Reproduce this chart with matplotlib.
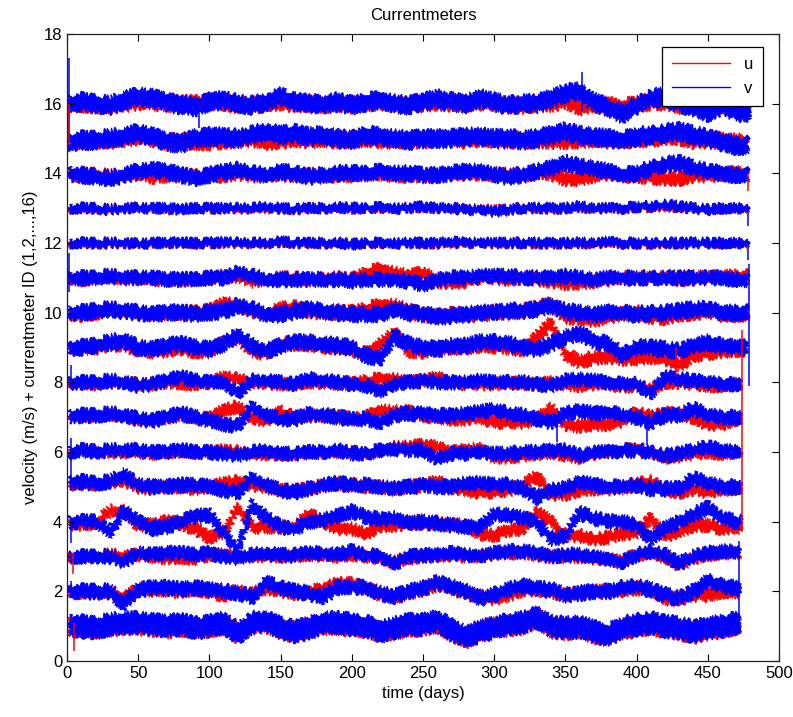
import numpy as np
import matplotlib
matplotlib.use('Agg')
import matplotlib.pyplot as plt
from matplotlib.lines import Line2D

plt.rcParams['font.family'] = ['Liberation Sans', 'DejaVu Sans']

# sample days (every 10 days), the per-meter last day is added below
days = [2, 10, 20, 30, 40, 50, 60, 70, 80, 90, 100, 110,
        120, 130, 140, 150, 160, 170, 180, 190, 200, 210, 220, 230,
        240, 250, 260, 270, 280, 290, 300, 310, 320, 330, 340, 350,
        360, 370, 380, 390, 400, 410, 420, 430, 440, 450, 460, 470]
end_day = [472, 472, 472, 473, 473, 473, 473, 473, 477, 478, 478, 478, 478, 478, 478, 479]

# velocity components (m/s) for currentmeters 1..16
u1 = [0.0, -0.05, -0.05, 0.0, 0.05, 0.05, 0.0, -0.05, 0.0, -0.05, -0.05, 0.05,
      -0.2, 0.05, 0.1, -0.1, -0.15, -0.05, 0.05, 0.05, 0.0, -0.05, -0.15, -0.1,
      0.0, 0.0, 0.1, -0.15, -0.35, -0.15, -0.05, 0.0, 0.05, 0.25, -0.05, -0.1,
      -0.05, -0.2, -0.25, -0.1, 0.0, 0.05, -0.05, -0.1, -0.2, -0.1, -0.05, 0.05]
v1 = [0.05, 0.0, -0.05, 0.05, 0.1, 0.1, 0.05, 0.0, 0.05, -0.05, 0.0, 0.1,
      -0.2, 0.1, 0.15, -0.05, -0.15, -0.05, 0.1, 0.1, 0.05, 0.0, -0.15, -0.05,
      0.05, 0.05, 0.15, -0.1, -0.3, -0.15, -0.05, 0.05, 0.1, 0.25, 0.0, -0.05,
      0.0, -0.15, -0.25, -0.05, 0.05, 0.1, 0.0, -0.05, -0.15, -0.05, 0.0, 0.1]
u2 = [0.0, 0.0, 0.0, 0.0, -0.2, 0.05, 0.05, 0.05, 0.0, 0.05, 0.0, -0.1,
      0.0, -0.1, 0.1, 0.05, -0.05, -0.05, 0.1, 0.2, 0.2, 0.1, -0.1, -0.15,
      -0.05, 0.05, 0.2, 0.1, -0.05, -0.15, -0.2, -0.1, 0.05, 0.05, 0.0, -0.1,
      -0.05, 0.0, 0.0, 0.05, 0.1, 0.05, -0.2, -0.2, -0.1, -0.1, 0.0, 0.0]
v2 = [0.0, 0.0, 0.0, 0.0, -0.35, 0.05, 0.1, 0.1, 0.05, 0.1, 0.05, 0.0,
      -0.05, -0.15, 0.25, 0.1, 0.0, -0.05, -0.15, 0.1, 0.15, 0.1, -0.05, -0.15,
      0.0, 0.1, 0.25, 0.15, 0.0, -0.2, -0.1, 0.05, 0.15, 0.1, 0.05, -0.1,
      -0.05, 0.0, 0.0, 0.1, 0.15, 0.05, -0.1, -0.2, 0.0, 0.3, 0.15, 0.1]
u3 = [0.0, 0.0, 0.0, 0.05, 0.0, 0.05, 0.0, -0.05, -0.05, -0.05, 0.05, 0.05,
      0.0, 0.0, 0.05, 0.0, 0.0, 0.05, 0.05, 0.0, 0.05, 0.0, -0.05, -0.15,
      -0.05, 0.0, 0.0, 0.05, 0.0, 0.0, 0.1, 0.1, 0.1, 0.05, 0.0, 0.0,
      0.0, -0.05, -0.1, -0.1, 0.05, 0.1, 0.0, -0.25, -0.05, 0.05, 0.1, 0.1]
v3 = [0.0, 0.0, 0.0, 0.0, -0.15, 0.1, 0.05, 0.1, 0.1, 0.05, 0.1, 0.0,
      -0.05, 0.05, 0.1, 0.05, 0.05, 0.1, 0.1, 0.05, 0.15, 0.05, 0.0, -0.2,
      0.0, 0.05, 0.05, 0.1, 0.05, 0.0, 0.1, 0.15, 0.15, 0.1, 0.0, 0.05,
      0.05, 0.0, -0.1, -0.15, 0.05, 0.15, 0.05, -0.2, 0.0, 0.1, 0.15, 0.15]
u4 = [-0.1, -0.05, -0.05, 0.3, 0.3, -0.1, -0.1, 0.0, -0.05, -0.2, -0.45, -0.3,
      0.4, -0.15, -0.15, -0.15, -0.15, 0.2, 0.0, -0.2, -0.2, -0.35, -0.1, -0.1,
      -0.05, -0.05, -0.05, -0.1, -0.1, -0.35, -0.4, -0.25, -0.2, 0.3, 0.0, -0.4,
      -0.4, -0.5, -0.45, -0.35, -0.3, 0.1, -0.4, -0.3, -0.1, -0.1, -0.2, -0.15]
v4 = [0.0, 0.0, 0.0, -0.3, 0.3, 0.0, -0.2, -0.15, 0.0, 0.15, 0.2, -0.3,
      -0.8, 0.5, 0.1, -0.15, -0.2, 0.0, 0.05, 0.15, 0.3, 0.15, 0.05, 0.1,
      -0.05, 0.0, -0.05, -0.1, -0.15, -0.15, 0.2, 0.2, 0.1, 0.0, -0.5, -0.4,
      0.25, 0.1, 0.0, 0.0, -0.1, -0.5, -0.2, 0.0, 0.2, 0.4, 0.1, 0.0]
u5 = [0.1, 0.1, 0.1, 0.15, 0.2, 0.0, -0.05, 0.0, 0.0, -0.05, 0.0, 0.1,
      0.15, 0.05, 0.0, -0.1, -0.1, -0.05, 0.05, 0.1, 0.05, 0.0, 0.0, -0.05,
      0.0, 0.05, 0.15, 0.0, -0.1, -0.15, -0.15, -0.1, 0.05, 0.3, -0.2, -0.2,
      -0.1, -0.05, -0.05, -0.05, 0.1, 0.15, -0.1, -0.15, -0.05, -0.15, -0.05, -0.05]
v5 = [0.15, 0.15, 0.1, 0.15, 0.35, 0.05, 0.0, 0.0, 0.05, 0.05, 0.0, -0.1,
      -0.15, 0.25, 0.05, -0.1, -0.15, -0.05, 0.05, 0.1, 0.05, 0.05, 0.0, -0.05,
      0.0, 0.05, 0.0, 0.0, 0.1, 0.1, 0.05, 0.05, -0.05, -0.3, -0.1, -0.05,
      0.15, 0.05, 0.0, 0.0, 0.05, -0.05, -0.05, -0.05, 0.25, 0.1, 0.0, 0.0]
u6 = [0.0, 0.05, 0.05, 0.0, 0.0, 0.0, -0.05, 0.0, 0.0, 0.0, 0.0, 0.05,
      0.0, -0.05, -0.05, -0.05, -0.05, 0.0, 0.0, 0.0, 0.0, -0.05, 0.05, 0.15,
      0.15, 0.2, 0.15, 0.0, 0.05, 0.1, -0.15, -0.15, -0.1, -0.05, 0.0, -0.1,
      -0.15, -0.05, 0.0, 0.05, 0.1, 0.0, -0.15, -0.1, -0.05, 0.0, -0.05, 0.0]
v6 = [0.0, 0.05, 0.0, 0.05, 0.05, 0.05, 0.0, 0.0, 0.05, 0.0, 0.0, -0.05,
      -0.1, 0.0, 0.05, -0.05, -0.05, 0.0, 0.0, 0.05, -0.05, -0.05, 0.05, 0.1,
      0.05, 0.05, -0.2, -0.05, -0.05, 0.0, -0.05, -0.05, 0.0, 0.0, 0.05, 0.05,
      -0.1, 0.0, 0.0, 0.05, 0.05, 0.0, -0.1, -0.05, 0.05, 0.15, 0.05, 0.0]
u7 = [0.05, 0.05, 0.05, 0.1, 0.05, -0.05, -0.1, 0.0, 0.05, 0.0, -0.05, 0.2,
      0.3, 0.0, -0.1, 0.15, 0.0, 0.05, 0.05, 0.0, -0.05, 0.0, 0.2, 0.15,
      0.15, 0.05, 0.0, -0.05, -0.05, 0.0, -0.15, -0.15, -0.15, -0.05, 0.25, -0.2,
      -0.25, -0.2, -0.2, -0.1, 0.15, 0.0, 0.1, 0.1, 0.0, -0.2, -0.2, -0.05]
v7 = [0.05, 0.05, 0.05, 0.1, 0.05, -0.05, -0.1, 0.0, 0.1, 0.0, -0.1, -0.2,
      -0.25, 0.3, 0.05, -0.05, -0.05, 0.1, 0.05, 0.0, -0.05, -0.05, -0.15, 0.05,
      0.1, 0.1, 0.05, 0.05, 0.1, 0.15, 0.2, 0.1, 0.05, -0.05, -0.15, 0.1,
      0.2, 0.1, 0.15, 0.05, 0.0, -0.15, 0.05, 0.05, 0.25, 0.05, 0.0, 0.0]
u8 = [0.0, 0.0, -0.05, 0.0, 0.0, -0.05, -0.05, 0.0, -0.05, -0.05, 0.0, 0.15,
      0.1, 0.0, 0.0, -0.05, -0.05, 0.0, 0.0, -0.05, -0.05, 0.05, 0.1, 0.1,
      0.0, 0.05, 0.15, 0.0, -0.05, -0.05, -0.05, 0.0, -0.05, -0.05, 0.0, -0.05,
      -0.1, -0.05, -0.05, -0.1, -0.1, -0.2, 0.0, 0.0, -0.05, -0.1, -0.1, -0.05]
v8 = [0.0, 0.0, 0.0, 0.05, 0.0, -0.1, -0.05, 0.05, 0.15, 0.05, 0.0, 0.0,
      -0.3, 0.05, 0.05, 0.0, -0.05, 0.1, 0.05, 0.0, -0.05, -0.1, -0.25, -0.05,
      0.0, 0.05, 0.0, 0.0, 0.0, 0.05, 0.0, 0.0, 0.0, -0.05, -0.1, 0.05,
      0.1, 0.05, 0.0, -0.05, -0.05, -0.3, 0.15, 0.1, 0.05, 0.0, -0.05, -0.05]
u9 = [0.0, 0.0, 0.0, 0.1, 0.1, -0.05, -0.1, -0.05, 0.0, -0.1, -0.1, 0.15,
      0.3, -0.1, -0.15, 0.1, 0.1, 0.1, 0.05, 0.0, -0.05, -0.2, 0.1, 0.4,
      -0.1, -0.1, -0.05, 0.0, 0.0, 0.05, 0.05, 0.0, -0.05, 0.3, 0.7, -0.2,
      -0.4, -0.3, -0.25, -0.3, -0.3, -0.25, -0.3, -0.5, -0.2, -0.15, -0.1, -0.05]
v9 = [0.0, 0.0, 0.05, 0.15, 0.2, 0.0, -0.05, 0.05, 0.1, 0.0, -0.05, 0.1,
      0.35, 0.05, -0.1, 0.05, 0.15, 0.15, 0.1, 0.05, 0.0, -0.25, -0.3, 0.3,
      0.1, 0.0, -0.05, 0.05, 0.05, 0.15, 0.15, 0.1, 0.0, -0.05, 0.1, 0.3,
      0.4, 0.2, 0.1, -0.2, 0.0, 0.0, -0.05, -0.1, 0.05, 0.15, 0.05, 0.0]
u10 = [0.0, -0.05, 0.0, 0.1, 0.05, 0.0, -0.05, 0.0, 0.0, 0.0, 0.05, 0.25,
       0.2, 0.05, -0.05, 0.1, 0.15, 0.05, 0.0, 0.0, 0.0, 0.1, 0.2, 0.2,
       0.05, -0.05, -0.1, -0.05, -0.05, -0.05, 0.0, 0.0, 0.05, 0.15, 0.25, -0.1,
       -0.15, -0.2, -0.1, -0.05, 0.0, -0.1, -0.15, -0.05, 0.0, 0.05, -0.05, -0.05]
v10 = [0.0, 0.0, 0.05, 0.1, 0.05, 0.0, -0.05, 0.0, 0.0, -0.05, 0.0, 0.05,
       0.2, 0.1, -0.05, -0.05, 0.05, 0.1, 0.05, 0.0, -0.05, -0.05, -0.05, 0.1,
       0.0, -0.05, -0.1, -0.1, -0.05, 0.0, 0.0, 0.05, 0.05, 0.1, 0.2, 0.05,
       0.0, -0.05, 0.0, 0.0, -0.05, 0.0, 0.0, 0.05, 0.1, 0.1, 0.0, 0.0]
u11 = [0.0, -0.05, 0.0, 0.05, 0.0, 0.0, -0.05, -0.05, -0.05, -0.05, 0.0, 0.05,
       0.05, -0.1, -0.05, 0.0, 0.0, -0.05, 0.0, 0.0, -0.05, 0.15, 0.25, 0.15,
       0.05, 0.15, -0.1, -0.15, -0.1, 0.0, 0.0, -0.05, 0.0, -0.05, -0.1, -0.15,
       -0.15, -0.1, -0.05, 0.0, 0.0, 0.0, 0.0, -0.05, 0.0, 0.0, 0.05, 0.05]
v11 = [0.0, 0.0, 0.0, 0.05, 0.0, 0.0, 0.0, -0.05, -0.05, -0.05, 0.0, 0.0,
       0.15, 0.05, -0.05, -0.05, -0.05, -0.05, -0.05, -0.05, -0.1, -0.05, -0.05, -0.05,
       -0.1, -0.2, -0.05, 0.0, 0.0, 0.05, 0.05, 0.05, 0.0, 0.0, 0.0, 0.05,
       0.0, -0.05, 0.0, 0.0, 0.0, 0.0, 0.0, 0.0, 0.0, 0.0, 0.0, -0.05]
u12 = [0.0, 0.0, -0.03, 0.0, 0.0, -0.03, 0.0, 0.0, 0.0, -0.03, 0.0, 0.0,
       0.0, 0.0, 0.0, 0.03, 0.0, 0.0, 0.0, 0.0, -0.03, 0.0, 0.0, 0.0,
       0.0, 0.0, -0.03, 0.0, 0.0, 0.0, 0.0, 0.0, 0.0, -0.03, 0.0, 0.0,
       0.0, 0.0, 0.0, 0.0, 0.0, -0.03, 0.0, 0.0, 0.0, 0.0, 0.0, 0.0]
v12 = [0.0, 0.0, 0.0, 0.0, 0.0, -0.03, 0.0, 0.0, 0.0, 0.0, 0.0, 0.03,
       0.0, 0.0, 0.0, 0.05, 0.0, 0.0, 0.0, 0.0, -0.05, 0.0, 0.0, 0.0,
       0.0, 0.0, 0.0, 0.03, 0.0, 0.0, 0.0, 0.0, 0.0, 0.0, 0.0, 0.0,
       0.0, 0.0, 0.03, 0.0, 0.0, 0.0, 0.0, 0.0, 0.0, 0.0, 0.0, 0.0]
u13 = [0.0, 0.0, -0.03, -0.03, 0.0, 0.0, 0.0, -0.03, -0.05, 0.0, 0.0, 0.0,
       -0.03, 0.0, 0.0, 0.0, -0.03, 0.0, 0.0, 0.0, -0.03, 0.0, 0.0, 0.0,
       0.0, 0.03, 0.0, 0.0, -0.03, -0.03, -0.05, -0.03, 0.0, 0.0, 0.0, 0.0,
       0.03, 0.0, 0.0, 0.0, 0.03, 0.03, 0.05, 0.03, 0.0, -0.03, 0.0, 0.0]
v13 = [0.0, 0.0, 0.0, -0.05, 0.0, 0.0, 0.0, 0.0, -0.05, 0.0, 0.0, 0.0,
       0.0, 0.0, 0.05, 0.0, -0.03, 0.0, 0.0, 0.02, 0.0, 0.0, 0.03, 0.0,
       0.0, 0.05, 0.0, 0.0, -0.05, -0.05, -0.1, -0.05, 0.0, 0.0, 0.0, 0.0,
       0.05, 0.0, 0.0, 0.0, 0.05, 0.05, 0.1, 0.05, 0.0, -0.05, 0.0, 0.0]
u14 = [0.0, -0.05, -0.05, -0.1, -0.05, 0.0, -0.1, -0.05, -0.05, -0.1, -0.05, -0.05,
       0.0, -0.05, -0.05, 0.0, -0.05, -0.05, -0.05, -0.05, -0.05, 0.0, 0.0, -0.05,
       -0.05, -0.05, -0.05, 0.0, 0.0, 0.0, -0.05, -0.05, -0.05, 0.05, 0.0, -0.15,
       -0.15, -0.05, 0.0, -0.05, -0.05, -0.1, -0.15, -0.15, -0.05, -0.05, 0.0, 0.0]
v14 = [0.0, -0.05, -0.1, -0.15, -0.05, 0.05, 0.1, 0.05, -0.05, -0.15, -0.05, 0.05,
       0.1, 0.0, -0.05, 0.05, 0.0, -0.1, -0.05, 0.0, 0.0, 0.0, 0.05, 0.0,
       0.0, -0.05, -0.05, 0.0, 0.05, 0.05, -0.05, -0.1, -0.05, 0.05, 0.15, 0.3,
       0.2, 0.15, 0.05, -0.05, 0.0, 0.15, 0.25, 0.3, 0.15, 0.05, 0.0, -0.05]
u15 = [-0.1, -0.05, -0.05, -0.05, 0.0, 0.05, 0.0, -0.1, -0.1, -0.1, -0.1, -0.05,
       -0.05, 0.0, -0.1, -0.05, 0.0, -0.05, 0.0, -0.05, -0.05, 0.0, -0.05, -0.05,
       -0.05, -0.05, 0.0, 0.0, -0.05, 0.0, -0.05, -0.05, -0.05, -0.05, -0.05, -0.05,
       -0.05, 0.0, -0.05, -0.05, 0.0, 0.0, 0.05, 0.05, -0.05, -0.05, -0.05, -0.1]
v15 = [-0.1, -0.05, -0.05, 0.0, 0.05, 0.15, 0.05, -0.1, -0.15, 0.0, 0.05, 0.05,
       0.0, 0.1, 0.2, 0.1, 0.15, 0.05, 0.1, 0.0, -0.05, 0.1, 0.05, 0.0,
       -0.05, 0.0, 0.0, 0.0, 0.05, 0.05, 0.0, 0.0, -0.05, 0.0, 0.1, 0.2,
       0.1, 0.05, 0.0, -0.05, 0.05, 0.1, 0.15, 0.2, 0.1, 0.0, -0.1, -0.2]
u16 = [0.0, 0.0, -0.05, -0.05, 0.0, 0.05, 0.05, 0.0, 0.0, 0.0, 0.05, 0.05,
       -0.05, -0.05, 0.0, 0.05, 0.0, 0.0, -0.05, 0.0, -0.05, 0.0, 0.05, 0.0,
       -0.05, 0.0, 0.05, 0.0, 0.0, 0.05, 0.0, -0.05, -0.05, 0.0, 0.0, 0.1,
       -0.1, 0.0, -0.05, -0.1, 0.0, 0.05, 0.05, -0.05, -0.05, -0.1, -0.05, -0.1]
v16 = [0.0, 0.05, 0.0, -0.05, 0.1, 0.2, 0.15, 0.05, -0.05, -0.1, 0.05, 0.1,
       0.0, -0.05, 0.05, 0.2, 0.05, 0.0, 0.0, 0.05, -0.05, 0.05, 0.1, 0.0,
       -0.05, 0.05, 0.15, 0.05, 0.0, 0.15, 0.05, -0.05, 0.0, 0.0, 0.15, 0.3,
       0.35, 0.05, -0.1, -0.3, -0.05, 0.15, 0.2, 0.0, -0.1, -0.25, -0.05, -0.25]

u_all = [u1, u2, u3, u4, u5, u6, u7, u8, u9, u10, u11, u12, u13, u14, u15, u16]
v_all = [v1, v2, v3, v4, v5, v6, v7, v8, v9, v10, v11, v12, v13, v14, v15, v16]

# spread of the high-frequency fluctuations around each record (m/s)
spread_u = [0.26, 0.16, 0.14, 0.15, 0.15, 0.14, 0.15, 0.14, 0.17, 0.17, 0.15, 0.1, 0.1, 0.17, 0.2, 0.2]
spread_v = [0.29, 0.18, 0.16, 0.17, 0.17, 0.16, 0.17, 0.16, 0.19, 0.19, 0.17, 0.11, 0.11, 0.19, 0.23, 0.23]

# isolated jumps in the records (start/end samples and sharp dips)
jump_day = [1.5, 1.5, 1.5, 2.5, 2.5, 2.5, 3.0, 4.0, 5.0, 93, 362, 344, 407, 428, 472, 474, 479, 478, 478, 478]
jump_lo = [14.6, 14.8, 10.6, 7.9, 5.2, 3.4, 1.8, 2.5, 0.3, 15.3, 15.8, 6.3, 6.2, 8.2, 0.9, 3.7, 7.9, 11.5, 12.5, 13.5]
jump_hi = [17.3, 16.0, 11.7, 8.5, 6.4, 3.9, 2.3, 3.1, 1.1, 16.0, 16.9, 7.0, 7.0, 9.0, 3.45, 9.5, 11.4, 12.0, 13.0, 14.0]
jump_col = ['b', 'r', 'b', 'b', 'b', 'b', 'b', 'r', 'r', 'b', 'b', 'b', 'b', 'r', 'b', 'r', 'b', 'b', 'b', 'r']

fig = plt.figure(figsize=(7.93, 7.17), dpi=100)
ax = fig.add_axes([0.0845, 0.078, 0.8978, 0.8746])

for k in range(16):
    t = np.array(days + [end_day[k]], dtype=float)
    for vals, sp, col in ((u_all[k], spread_u[k], 'r'), (v_all[k], spread_v[k], 'b')):
        y = np.array(vals + [vals[-1]]) + (k + 1)
        xs = np.concatenate([t, t[::-1]])
        ys = np.concatenate([y + sp, (y - sp)[::-1]])
        band = ax.fill(xs, ys, color=col, lw=0.7)[0]
        band.set_sketch_params(scale=2.5, length=1, randomness=8)

ax.vlines(jump_day, jump_lo, jump_hi, colors=jump_col, lw=1.1)

ax.set_xlim(0, 500)
ax.set_ylim(0, 18)
ax.set_xticks(np.arange(0, 501, 50))
ax.set_yticks(np.arange(0, 19, 2))
ax.tick_params(direction='in', top=True, right=True, length=5, labelsize=12, width=0.8)
for s in ax.spines.values():
    s.set_linewidth(0.9)
    s.set_color('#222222')

ax.set_title('Currentmeters', fontsize=12, pad=10)
ax.set_xlabel('time (days)', fontsize=12)
ax.set_ylabel('velocity (m/s) + currentmeter ID (1,2,...,16)', fontsize=12)

handles = [Line2D([], [], color='r', lw=1), Line2D([], [], color='b', lw=1)]
leg = ax.legend(handles, ['u', 'v'], loc='upper right', bbox_to_anchor=(0.9775, 0.979),
                borderaxespad=0, fontsize=12, handlelength=3.5, labelspacing=0.55,
                borderpad=0.6, fancybox=False, framealpha=1, edgecolor='black')
leg.get_frame().set_linewidth(0.9)

fig.savefig('out.png', dpi=100)
